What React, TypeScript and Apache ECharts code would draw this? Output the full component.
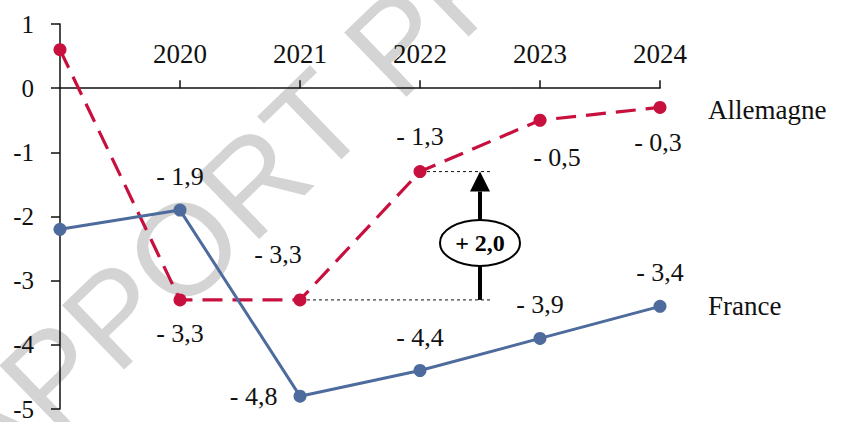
import React, { useEffect, useRef } from "react";
import * as echarts from "echarts";

const categories = ["2019", "2020", "2021", "2022", "2023", "2024"];
const france = [-2.2, -1.9, -4.8, -4.4, -3.9, -3.4];
const allemagne = [0.6, -3.3, -3.3, -1.3, -0.5, -0.3];
const yMin = -5;
const yMax = 1;
const annotationText = "+ 2,0";
const watermark = "RAPPORT PROVISOIRE";

const FONT = "'Liberation Serif', 'DejaVu Serif', serif";
const RED = "#C8103E";
const BLUE = "#4D6B9C";

const W = 843;
const H = 422;
const GRID = { left: 60, right: 183, top: 24, bottom: 13 };

const fmt = (v: number) => (v < 0 ? "- " : "") + Math.abs(v).toFixed(1).replace(".", ",");

// label placement per point index (style only)
const alLabels: any[] = [
  { show: false },
  { show: true, position: "bottom", distance: 14 },
  { show: true, position: "top", distance: 26, offset: [-22, 0] },
  { show: true, position: "top", distance: 16 },
  { show: true, position: "bottom", distance: 18, offset: [17, 0] },
  { show: true, position: "bottom", distance: 16, offset: [-2, 0] },
];
const frLabels: any[] = [
  { show: false },
  { show: true, position: "top", distance: 14 },
  { show: true, position: "left", distance: 16 },
  { show: true, position: "top", distance: 14 },
  { show: true, position: "top", distance: 14 },
  { show: true, position: "top", distance: 14 },
];

export default function App() {
  const ref = useRef<HTMLDivElement>(null);
  useEffect(() => {
    if (!ref.current) return;
    const chart = echarts.init(ref.current, null, { renderer: "svg" });
    const labelStyle = { color: "#111", fontSize: 26, fontFamily: FONT, formatter: (p: any) => fmt(p.value) };
    const gridH = H - GRID.top - GRID.bottom;
    const zeroOffset = -((yMax - 0) / (yMax - yMin)) * gridH;
    const option: any = {
      animation: false,
      backgroundColor: "#fff",
      grid: { ...GRID, containLabel: false, outerBoundsMode: "none" },
      xAxis: {
        type: "category",
        data: categories,
        boundaryGap: false,
        position: "top",
        offset: zeroOffset,
        axisLine: { onZero: false, lineStyle: { color: "#111", width: 1.5 } },
        axisTick: { show: true, inside: false, length: 8, lineStyle: { color: "#111", width: 1.5 }, interval: (i: number) => i > 0 },
        axisLabel: { interval: (i: number) => i > 0, margin: 21, color: "#111", fontSize: 27, fontFamily: FONT },
        splitLine: { show: false },
      },
      yAxis: {
        type: "value",
        min: yMin,
        max: yMax,
        interval: 1,
        axisLine: { show: true, lineStyle: { color: "#111", width: 1.5 } },
        axisTick: { show: true, inside: false, length: 9, lineStyle: { color: "#111", width: 1.5 } },
        axisLabel: { margin: 26, color: "#111", fontSize: 25, lineHeight: 20, fontFamily: FONT },
        splitLine: { show: false },
      },
      series: [
        {
          name: "Allemagne",
          type: "line",
          data: allemagne.map((v, i) => ({ value: v, label: { ...labelStyle, ...alLabels[i] } })),
          symbol: "circle",
          symbolSize: 13,
          itemStyle: { color: RED },
          lineStyle: { color: RED, width: 3.2, type: [20, 10] },
          z: 3,
          endLabel: { show: true, formatter: "{a}", distance: 48, offset: [0, 3], color: "#111", fontSize: 27, fontFamily: FONT },
        },
        {
          name: "France",
          type: "line",
          data: france.map((v, i) => ({ value: v, label: { ...labelStyle, ...frLabels[i] } })),
          symbol: "circle",
          symbolSize: 13,
          itemStyle: { color: BLUE },
          lineStyle: { color: BLUE, width: 3 },
          z: 4,
          endLabel: { show: true, formatter: "{a}", distance: 48, color: "#111", fontSize: 27, fontFamily: FONT },
        },
      ],
    };
    chart.setOption(option);

    const pHi = chart.convertToPixel({ gridIndex: 0 }, [categories[3], allemagne[3]]) as number[];
    const pLo = chart.convertToPixel({ gridIndex: 0 }, [categories[2], allemagne[2]]) as number[];
    const pNext = chart.convertToPixel({ gridIndex: 0 }, [categories[4], allemagne[4]]) as number[];
    const ax = (pHi[0] + pNext[0]) / 2;
    const lineEnd = ax + 10;
    const cy = pLo[1] - 57;
    const rx = 40;
    const ry = 23;
    const headBase = pHi[1] + 20;

    chart.setOption({
      graphic: [
        {
          type: "text",
          x: 421,
          y: 20,
          rotation: (44 * Math.PI) / 180,
          z: -10,
          silent: true,
          style: {
            text: watermark,
            fill: "#d4d4d4",
            fontSize: 130,
            fontFamily: "'Liberation Sans', Arial, sans-serif",
            align: "center",
            verticalAlign: "middle",
          },
        },
        {
          type: "line",
          z: 10,
          shape: { x1: pHi[0] + 7, y1: pHi[1], x2: lineEnd, y2: pHi[1] },
          style: { stroke: "#111", lineWidth: 1, lineDash: [3, 3] },
        },
        {
          type: "line",
          z: 10,
          shape: { x1: pLo[0] + 7, y1: pLo[1], x2: lineEnd, y2: pLo[1] },
          style: { stroke: "#111", lineWidth: 1, lineDash: [3, 3] },
        },
        {
          type: "line",
          z: 10,
          shape: { x1: ax, y1: pLo[1], x2: ax, y2: cy + ry },
          style: { stroke: "#000", lineWidth: 4 },
        },
        {
          type: "line",
          z: 10,
          shape: { x1: ax, y1: cy - ry, x2: ax, y2: headBase },
          style: { stroke: "#000", lineWidth: 4 },
        },
        {
          type: "polygon",
          z: 10,
          shape: { points: [[ax, pHi[1]], [ax - 10, headBase], [ax + 10, headBase]] },
          style: { fill: "#000" },
        },
        {
          type: "ellipse",
          z: 10,
          shape: { cx: ax, cy, rx, ry },
          style: { fill: "#fff", stroke: "#000", lineWidth: 2 },
        },
        {
          type: "text",
          z: 11,
          x: ax,
          y: cy,
          style: {
            text: annotationText,
            fill: "#000",
            fontSize: 24,
            fontWeight: "bold",
            fontFamily: FONT,
            align: "center",
            verticalAlign: "middle",
          },
        },
      ],
    });
    return () => chart.dispose();
  }, []);
  return <div ref={ref} style={{ position: "fixed", left: 0, top: 0, width: W, height: H }} />;
}
